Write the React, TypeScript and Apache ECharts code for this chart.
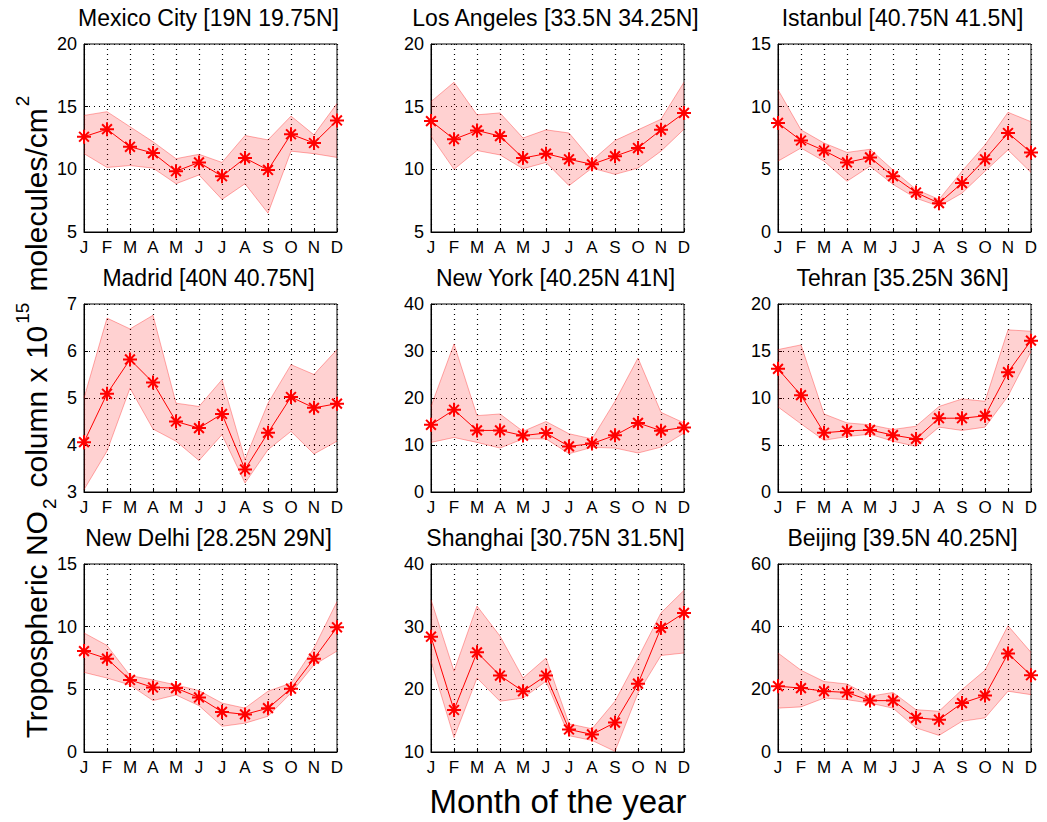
import React, { useEffect, useRef } from "react";
import * as echarts from "echarts";

const months = ["J", "F", "M", "A", "M", "J", "J", "A", "S", "O", "N", "D"];

const titles = [
  "Mexico City [19N 19.75N]",
  "Los Angeles [33.5N 34.25N]",
  "Istanbul [40.75N 41.5N]",
  "Madrid [40N 40.75N]",
  "New York [40.25N 41N]",
  "Tehran [35.25N 36N]",
  "New Delhi [28.25N 29N]",
  "Shanghai [30.75N 31.5N]",
  "Beijing [39.5N 40.25N]",
];

const yMins = [5, 5, 0, 3, 0, 0, 0, 10, 0];
const yMaxs = [20, 20, 15, 7, 40, 20, 15, 40, 60];
const ySteps = [5, 5, 5, 1, 10, 5, 5, 10, 20];

const mexicoMean = [12.6, 13.2, 11.8, 11.3, 9.85, 10.55, 9.45, 10.9, 9.95, 12.8, 12.1, 13.9];
const mexicoUpper = [14.3, 14.6, 13.4, 12.2, 10.85, 11.2, 10.55, 12.7, 12.35, 14.25, 12.75, 15.25];
const mexicoLower = [11.25, 10.15, 10.3, 10.1, 8.85, 9.55, 7.6, 8.85, 6.5, 11.45, 11.25, 10.95];

const laMean = [13.85, 12.4, 13.1, 12.65, 10.9, 11.25, 10.8, 10.4, 11.05, 11.7, 13.15, 14.5];
const laUpper = [15.4, 16.95, 14.35, 14.5, 12.5, 13.15, 12.9, 10.7, 12.3, 13.15, 14.0, 16.95];
const laLower = [12.65, 10.0, 11.5, 11.15, 10.05, 10.55, 8.7, 10.1, 9.6, 10.1, 11.45, 13.2];

const istanbulMean = [8.7, 7.3, 6.5, 5.55, 5.95, 4.45, 3.15, 2.3, 3.9, 5.8, 7.9, 6.35];
const istanbulUpper = [11.35, 8.15, 7.1, 6.35, 6.6, 4.95, 3.4, 2.6, 4.85, 6.95, 9.55, 8.8];
const istanbulLower = [5.65, 6.7, 5.65, 4.05, 5.25, 3.8, 2.7, 2.05, 3.1, 4.85, 6.55, 4.75];

const madridMean = [4.06, 5.09, 5.82, 5.33, 4.5, 4.36, 4.66, 3.48, 4.26, 5.02, 4.79, 4.88];
const madridUpper = [5.0, 6.7, 6.47, 6.76, 4.89, 4.82, 5.39, 3.69, 4.89, 5.71, 5.5, 6.03];
const madridLower = [3.05, 3.87, 5.21, 4.34, 4.08, 3.67, 4.22, 3.19, 3.9, 4.29, 3.81, 4.08];

const nyMean = [14.3, 17.5, 13.1, 13.1, 12.0, 12.55, 9.7, 10.3, 12.05, 14.7, 13.05, 13.75];
const nyUpper = [18.2, 31.5, 16.25, 16.6, 12.9, 15.0, 12.4, 11.3, 19.3, 28.5, 16.95, 14.7];
const nyLower = [10.55, 11.6, 10.55, 9.35, 11.3, 11.3, 8.15, 9.5, 9.35, 8.3, 9.55, 12.55];

const tehranMean = [13.1, 10.3, 6.3, 6.5, 6.6, 6.05, 5.65, 7.85, 7.85, 8.1, 12.75, 16.1];
const tehranUpper = [15.15, 15.65, 8.3, 7.35, 7.15, 6.65, 7.0, 9.1, 9.9, 9.65, 17.25, 17.1];
const tehranLower = [9.05, 7.25, 5.5, 5.9, 6.15, 5.4, 4.85, 6.9, 6.55, 6.9, 10.2, 14.95];

const delhiMean = [8.05, 7.45, 5.75, 5.15, 5.1, 4.35, 3.2, 3.0, 3.5, 5.05, 7.45, 9.95];
const delhiUpper = [9.5, 8.5, 6.1, 5.75, 5.35, 4.9, 3.9, 3.5, 4.85, 5.5, 8.3, 12.0];
const delhiLower = [6.35, 5.9, 5.35, 4.1, 4.55, 3.7, 2.05, 2.3, 2.85, 4.7, 6.95, 8.05];

const shanghaiMean = [28.4, 16.7, 25.9, 22.2, 19.7, 22.2, 13.6, 12.8, 14.7, 20.9, 29.8, 32.2];
const shanghaiUpper = [34.3, 22.9, 33.3, 28.5, 21.8, 25.0, 14.5, 13.7, 18.1, 25.0, 32.2, 35.8];
const shanghaiLower = [24.5, 12.3, 21.8, 18.1, 18.6, 21.3, 12.6, 11.85, 10.1, 19.4, 25.4, 25.8];

const beijingMean = [21.0, 20.4, 19.4, 19.0, 16.4, 16.4, 10.9, 10.3, 15.6, 18.0, 31.4, 24.5];
const beijingUpper = [31.6, 26.1, 22.5, 21.7, 17.8, 19.0, 13.5, 13.0, 19.9, 26.1, 40.3, 31.8];
const beijingLower = [14.0, 14.4, 17.2, 16.7, 15.6, 14.0, 7.7, 5.3, 9.8, 10.9, 19.4, 18.3];

const means = [mexicoMean, laMean, istanbulMean, madridMean, nyMean, tehranMean, delhiMean, shanghaiMean, beijingMean];
const uppers = [mexicoUpper, laUpper, istanbulUpper, madridUpper, nyUpper, tehranUpper, delhiUpper, shanghaiUpper, beijingUpper];
const lowers = [mexicoLower, laLower, istanbulLower, madridLower, nyLower, tehranLower, delhiLower, shanghaiLower, beijingLower];

// y-label pieces: text, size, baseline shift (+ = subscript), gap before
const yLabelParts: [string, number, number, number][] = [
  ["Tropospheric NO", 30, 0, 0],
  ["2", 19, 13, 2],
  ["column x 10", 30, 0, 11],
  ["15", 19, -14, 2],
  ["molecules/cm", 30, 0, 11],
  ["2", 19, -14, 2],
];

const FONT = "'Liberation Sans', Arial, Helvetica, sans-serif";
const COL_LEFT = [84, 431, 778];
const ROW_TOP = [44, 304, 564];
const PW = 253;
const PH = 188;

const STAR = "path://M10,0 L10,20 M0,10 L20,10 M3,3 L17,17 M3,17 L17,3";

function measure(text: string, size: number) {
  const c = document.createElement("canvas");
  const ctx = c.getContext("2d");
  if (!ctx) return text.length * size * 0.55;
  ctx.font = `${size}px ${FONT}`;
  return ctx.measureText(text).width;
}

function buildOption() {
  const grid: any[] = [];
  const xAxis: any[] = [];
  const yAxis: any[] = [];
  const series: any[] = [];
  const graphic: any[] = [];

  for (let i = 0; i < 9; i++) {
    const r = Math.floor(i / 3);
    const c = i % 3;
    const left = COL_LEFT[c];
    const top = ROW_TOP[r];
    grid.push({
      left,
      top,
      width: PW,
      height: PH,
      show: true,
      borderColor: "#000",
      borderWidth: 1,
      backgroundColor: "transparent",
      containLabel: false,
    });
    xAxis.push({
      type: "category",
      gridIndex: i,
      data: months,
      boundaryGap: false,
      axisLine: { show: true, lineStyle: { color: "#000", width: 1 } },
      axisTick: { show: true, inside: true, length: 4, alignWithLabel: true, interval: 0, lineStyle: { color: "#000" } },
      axisLabel: { interval: 0, color: "#000", fontSize: 17, fontFamily: FONT, margin: 7 },
      splitLine: { show: true, interval: 0, lineStyle: { color: "#000", type: [1, 4], width: 1.2 } },
    });
    yAxis.push({
      type: "value",
      gridIndex: i,
      min: yMins[i],
      max: yMaxs[i],
      interval: ySteps[i],
      axisLine: { show: true, lineStyle: { color: "#000", width: 1 } },
      axisTick: { show: true, inside: true, length: 4, lineStyle: { color: "#000" } },
      axisLabel: { color: "#000", fontSize: 18, fontFamily: FONT, margin: 7 },
      splitLine: { show: true, lineStyle: { color: "#000", type: [1, 4], width: 1.2 } },
    });

    const lower = lowers[i];
    const upper = uppers[i];
    const width = upper.map((u, k) => u - lower[k]);
    series.push({
      type: "line",
      xAxisIndex: i,
      yAxisIndex: i,
      data: lower,
      stack: "band" + i,
      symbol: "none",
      silent: true,
      lineStyle: { color: "rgba(255,0,0,0.32)", width: 1 },
      z: 1,
    });
    series.push({
      type: "line",
      xAxisIndex: i,
      yAxisIndex: i,
      data: width,
      stack: "band" + i,
      symbol: "none",
      silent: true,
      lineStyle: { color: "rgba(255,0,0,0.32)", width: 1 },
      areaStyle: { color: "rgba(255,0,0,0.18)", opacity: 1 },
      z: 1,
    });
    series.push({
      type: "line",
      xAxisIndex: i,
      yAxisIndex: i,
      data: means[i],
      symbol: STAR,
      symbolSize: 14,
      lineStyle: { color: "#ff0000", width: 1 },
      itemStyle: { color: "none", borderColor: "#ff0000", borderWidth: 2 },
      z: 3,
    });

    graphic.push({
      type: "text",
      x: left + PW / 2 - 2,
      y: top - 26,
      style: {
        text: titles[i],
        fill: "#000",
        fontSize: 23,
        fontFamily: FONT,
        align: "center",
        verticalAlign: "middle",
      },
    });
  }

  graphic.push({
    type: "text",
    x: 558,
    y: 801,
    style: {
      text: "Month of the year",
      fill: "#000",
      fontSize: 33,
      fontFamily: FONT,
      align: "center",
      verticalAlign: "middle",
    },
  });

  // rotated y-axis label built from pieces (sub/superscripts)
  const widths = yLabelParts.map(([t, s]) => measure(t, s));
  const total = yLabelParts.reduce((acc, p, k) => acc + p[3] + widths[k], 0);
  let pos = -total / 2;
  const children: any[] = [];
  yLabelParts.forEach(([t, s, dy, gap], k) => {
    pos += gap;
    children.push({
      type: "text",
      x: pos,
      y: dy,
      style: {
        text: t,
        fill: "#000",
        fontSize: s,
        fontFamily: FONT,
        align: "left",
        verticalAlign: "middle",
      },
    });
    pos += widths[k];
  });
  graphic.push({
    type: "group",
    x: 36,
    y: 417,
    rotation: Math.PI / 2,
    children,
  });

  return {
    animation: false,
    backgroundColor: "#fff",
    grid,
    xAxis,
    yAxis,
    series,
    graphic,
  };
}

export default function App() {
  const ref = useRef<HTMLDivElement>(null);
  useEffect(() => {
    document.body.style.margin = "0";
    if (!ref.current) return;
    const chart = echarts.init(ref.current, undefined, { renderer: "svg" });
    chart.setOption(buildOption() as any);
    return () => {
      chart.dispose();
    };
  }, []);
  return <div ref={ref} style={{ width: 1047, height: 822 }} />;
}
